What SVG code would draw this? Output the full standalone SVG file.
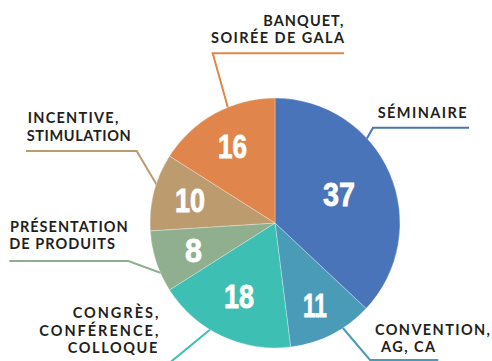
<svg xmlns="http://www.w3.org/2000/svg" width="492" height="361" viewBox="0 0 492 361">
<style>
.lbl{font-family:"Lato","Liberation Sans",sans-serif;font-weight:700;font-size:14.5px;fill:#231f20}
.num{font-family:"Liberation Sans Narrow","Liberation Sans",sans-serif;font-weight:700;font-size:33px;fill:#ffffff;stroke:#ffffff;stroke-width:0.8;text-anchor:middle}
.slice{stroke:#ffffff;stroke-opacity:0.5;stroke-width:0.6}
.lead{fill:none;stroke-width:2;stroke-linejoin:miter}
</style>
<rect width="492" height="361" fill="#ffffff"/>
<g id="connectors">
<polyline class="lead" stroke="#e0864c" points="344,53.3 212.7,53.3 228,108"/>
<polyline class="lead" stroke="#4a74b9" points="469,127.7 373,127.7 366,140"/>
<polyline class="lead" stroke="#bc9b6f" points="26,151 136.7,151 158,187"/>
<polyline class="lead" stroke="#8faf8e" points="9.3,261 128.3,261 161,273"/>
<polyline class="lead" stroke="#3ebfb3" points="212,328 167,365"/>
<polyline class="lead" stroke="#4a9bb8" points="342,327 370,360 438.3,360"/>
</g>
<g id="seminaire">
<path class="slice" fill="#4a74b9" d="M275,223 L275,98 A125,125 0 0 1 366.13,308.56 Z"/>
<text class="num" x="339" y="206" textLength="32" lengthAdjust="spacingAndGlyphs">37</text>
<text class="lbl" x="377.7" y="118.3" textLength="89" lengthAdjust="spacing">SÉMINAIRE</text>
</g>
<g id="convention">
<path class="slice" fill="#4a9bb8" d="M275,223 L366.13,308.56 A125,125 0 0 1 290.67,347.02 Z"/>
<text class="num" x="315" y="317" textLength="24" lengthAdjust="spacingAndGlyphs">11</text>
<text class="lbl" x="375" y="335" textLength="115" lengthAdjust="spacing">CONVENTION,</text>
<text class="lbl" x="381" y="352.3" textLength="54" lengthAdjust="spacing">AG, CA</text>
</g>
<g id="congres">
<path class="slice" fill="#3ebfb3" d="M275,223 L290.67,347.02 A125,125 0 0 1 169.46,289.98 Z"/>
<text class="num" x="239" y="308" textLength="30" lengthAdjust="spacingAndGlyphs">18</text>
<text class="lbl" x="72.7" y="318.3" textLength="85.6" lengthAdjust="spacing">CONGRÈS,</text>
<text class="lbl" x="39.3" y="335.7" textLength="119" lengthAdjust="spacing">CONFÉRENCE,</text>
<text class="lbl" x="67.7" y="353.3" textLength="89.6" lengthAdjust="spacing">COLLOQUE</text>
</g>
<g id="presentation">
<path class="slice" fill="#8faf8e" d="M275,223 L169.46,289.98 A125,125 0 0 1 150.25,230.85 Z"/>
<text class="num" x="193.5" y="262" textLength="17" lengthAdjust="spacingAndGlyphs">8</text>
<text class="lbl" x="10" y="231.7" textLength="117.7" lengthAdjust="spacing">PRÉSENTATION</text>
<text class="lbl" x="9.3" y="249" textLength="105.7" lengthAdjust="spacing">DE PRODUITS</text>
</g>
<g id="incentive">
<path class="slice" fill="#bc9b6f" d="M275,223 L150.25,230.85 A125,125 0 0 1 169.46,156.02 Z"/>
<text class="num" x="190" y="212" textLength="30" lengthAdjust="spacingAndGlyphs">10</text>
<text class="lbl" x="27.7" y="123.3" textLength="90.6" lengthAdjust="spacing">INCENTIVE,</text>
<text class="lbl" x="26.7" y="140.7" textLength="104" lengthAdjust="spacing">STIMULATION</text>
</g>
<g id="banquet">
<path class="slice" fill="#e0864c" d="M275,223 L169.46,156.02 A125,125 0 0 1 275,98 Z"/>
<text class="num" x="232.5" y="158" textLength="29" lengthAdjust="spacingAndGlyphs">16</text>
<text class="lbl" x="263.3" y="26" textLength="80" lengthAdjust="spacing">BANQUET,</text>
<text class="lbl" x="211" y="43.3" textLength="133" lengthAdjust="spacing">SOIRÉE DE GALA</text>
</g>
</svg>
